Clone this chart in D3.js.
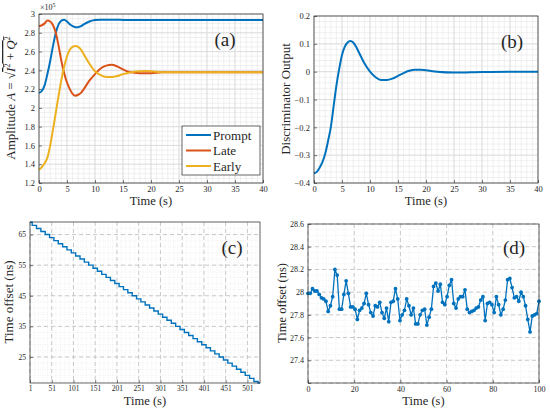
<!DOCTYPE html>
<html>
<head>
<meta charset="utf-8">
<script src="https://cdn.jsdelivr.net/npm/d3@7"></script>
<style>
  body { margin: 0; background: #fff; }
  svg { display: block; }
  text { font-family: "Liberation Serif", "DejaVu Serif", serif; fill: #262626; }
</style>
</head>
<body>
<div id="chart"></div>
<script>
// panel (a) amplitude curves
var tA = [0, 0.5, 1, 1.5, 2, 2.5, 3, 3.5, 4, 4.5, 5, 5.5, 6, 6.5, 7, 7.5, 8, 9, 10, 11, 12, 13, 14, 15, 16, 17, 18, 19, 20, 22, 25, 30, 35, 40];
var prompt = [2.16, 2.18, 2.24, 2.36, 2.5, 2.66, 2.8, 2.89, 2.93, 2.94, 2.92, 2.89, 2.87, 2.86, 2.86, 2.87, 2.89, 2.92, 2.935, 2.94, 2.94, 2.938, 2.938, 2.937, 2.937, 2.937, 2.937, 2.937, 2.937, 2.937, 2.937, 2.937, 2.937, 2.937];
var late = [2.87, 2.88, 2.9, 2.93, 2.92, 2.88, 2.8, 2.66, 2.5, 2.37, 2.27, 2.2, 2.15, 2.13, 2.14, 2.16, 2.2, 2.29, 2.36, 2.42, 2.45, 2.46, 2.44, 2.41, 2.385, 2.375, 2.37, 2.37, 2.37, 2.38, 2.38, 2.38, 2.38, 2.38];
var early = [1.34, 1.37, 1.41, 1.47, 1.6, 1.77, 1.95, 2.13, 2.3, 2.44, 2.55, 2.62, 2.65, 2.66, 2.65, 2.62, 2.57, 2.47, 2.39, 2.35, 2.33, 2.33, 2.34, 2.36, 2.375, 2.385, 2.39, 2.392, 2.39, 2.38, 2.38, 2.38, 2.38, 2.38];
var seriesNames = ["Prompt", "Late", "Early"];
var seriesColors = ["#0072BD", "#D95319", "#EDB120"];

// panel (b) discriminator output
var tB = [0, 0.5, 1, 1.5, 2, 2.5, 3, 3.5, 4, 4.5, 5, 5.5, 6, 6.5, 7, 7.5, 8, 9, 10, 11, 12, 13, 14, 15, 16, 17, 18, 19, 20, 22, 25, 30, 35, 40];
var disc = [-0.365, -0.36, -0.345, -0.325, -0.295, -0.25, -0.2, -0.125, -0.05, 0.01, 0.06, 0.09, 0.105, 0.11, 0.105, 0.09, 0.07, 0.03, 0.0, -0.02, -0.03, -0.03, -0.025, -0.015, -0.005, 0.003, 0.007, 0.007, 0.005, 0.0, -0.003, -0.001, 0.0, 0.0];

// panel (c) time offset staircase (every 10 s)
var tC = [1, 11, 21, 31, 41, 51, 61, 71, 81, 91, 101, 111, 121, 131, 141, 151, 161, 171, 181, 191, 201, 211, 221, 231, 241, 251, 261, 271, 281, 291, 301, 311, 321, 331, 341, 351, 361, 371, 381, 391, 401, 411, 421, 431, 441, 451, 461, 471, 481, 491, 501, 511, 521, 530];
var offC = [69, 68, 67, 66, 65, 64, 63, 62, 61, 60, 59, 58, 57, 56, 55, 54, 53, 52, 51, 50, 49, 48, 47, 46, 45, 44, 43, 42, 41, 40, 39, 38, 37, 36, 35, 34, 33, 32, 31, 30, 29, 28, 27, 26, 25, 24, 23, 22, 21, 20, 19, 18, 17, 16.5];
var ticksC = [1, 51, 101, 151, 201, 251, 301, 351, 401, 451, 501];

// panel (d) time offset samples
var offD = [27.99, 27.99, 28.03, 28.01, 28.01, 27.98, 27.95, 27.94, 27.92, 27.83, 27.88, 27.96, 28.2, 28.15, 27.85, 27.85, 27.98, 28.1, 27.99, 27.87,
            27.87, 27.85, 27.76, 27.84, 27.86, 27.9, 27.99, 27.89, 27.82, 27.79, 27.88, 27.87, 27.91, 27.82, 27.77, 27.86, 27.74, 27.91, 27.92, 28.03,
            27.94, 27.75, 27.8, 27.84, 27.94, 27.88, 27.8, 27.86, 27.72, 27.72, 27.8, 27.84, 27.85, 27.71, 27.78, 27.85, 28.05, 28.08, 28.01, 28.07,
            27.91, 27.89, 27.96, 28.06, 28.11, 27.9, 27.86, 27.94, 27.96, 27.96, 28.02, 27.85, 27.82, 27.83, 27.84, 27.86, 27.87, 27.93, 27.96, 27.75,
            27.9, 27.91, 27.89, 27.82, 27.96, 27.89, 27.8, 27.85, 27.93, 28.11, 28.12, 28.04, 27.95, 27.96, 27.92, 28.0, 27.96, 27.88, 27.76, 27.65, 27.79, 27.8, 27.81, 27.92];

var W = 550, H = 417;
var svg = d3.select("#chart").append("svg").attr("width", W).attr("height", H);
svg.append("rect").attr("width", W).attr("height", H).attr("fill", "#fff");

// builds one panel frame with grid, ticks, labels
function panel(o) {
    var x = d3.scaleLinear().domain(o.xd).range([o.l, o.r]);
    var y = d3.scaleLinear().domain(o.yd).range([o.b, o.t]);
    var g = svg.append("g");
    // minor grid
    o.xMinor.forEach(function(v) {
        g.append("line").attr("x1", x(v)).attr("x2", x(v)).attr("y1", o.t).attr("y2", o.b)
         .attr("stroke", "#e6e6e6").attr("stroke-width", 0.6).attr("stroke-dasharray", o.dash ? "1,1.5" : null);
    });
    o.yMinor.forEach(function(v) {
        g.append("line").attr("x1", o.l).attr("x2", o.r).attr("y1", y(v)).attr("y2", y(v))
         .attr("stroke", "#e6e6e6").attr("stroke-width", 0.6).attr("stroke-dasharray", o.dash ? "1,1.5" : null);
    });
    // major grid
    o.xt.forEach(function(v) {
        g.append("line").attr("x1", x(v)).attr("x2", x(v)).attr("y1", o.t).attr("y2", o.b)
         .attr("stroke", o.dash ? "#bdbdbd" : "#d9d9d9").attr("stroke-width", 0.8).attr("stroke-dasharray", o.dash ? "4,3" : null);
    });
    o.yt.forEach(function(v) {
        g.append("line").attr("x1", o.l).attr("x2", o.r).attr("y1", y(v)).attr("y2", y(v))
         .attr("stroke", o.dash ? "#bdbdbd" : "#d9d9d9").attr("stroke-width", 0.8).attr("stroke-dasharray", o.dash ? "4,3" : null);
    });
    var ax = g.append("g").attr("transform", "translate(0," + o.b + ")")
        .call(d3.axisBottom(x).tickValues(o.xt).tickSize(-3).tickPadding(3).tickFormat(o.xf || d3.format("")));
    var ay = g.append("g").attr("transform", "translate(" + o.l + ",0)")
        .call(d3.axisLeft(y).tickValues(o.yt).tickSize(-3).tickPadding(4).tickFormat(o.yf || d3.format("")));
    [ax, ay].forEach(function(a) {
        a.select(".domain").remove();
        a.selectAll("line").attr("stroke", "#262626").attr("stroke-width", 0.6);
        a.selectAll("text").attr("font-size", o.tickFont || 8.5).attr("font-family", "Liberation Serif").attr("fill", "#333");
    });
    return { g: g, x: x, y: y, o: o };
}

function frame(p) {
    var o = p.o;
    p.g.append("rect").attr("x", o.l).attr("y", o.t).attr("width", o.r - o.l).attr("height", o.b - o.t)
        .attr("fill", "none").attr("stroke", "#262626").attr("stroke-width", 0.7);
    p.g.append("text").attr("x", (o.l + o.r) / 2).attr("y", o.b + 22).attr("text-anchor", "middle")
        .attr("font-size", 12.5).text("Time (s)");
    p.g.append("text").attr("x", o.pl[0]).attr("y", o.pl[1]).attr("text-anchor", "middle")
        .attr("font-size", 19).attr("fill", "#111").text(o.label);
}

function range(a, b, s) { return d3.range(a, b + s / 2, s); }
var oneDec = function(d) { return d3.format("~g")(+d.toFixed(1)); };

// (a)
var pa = panel({ l: 39, r: 263, t: 14, b: 183, xd: [0, 40], yd: [1.2, 3.0],
    xt: range(0, 40, 5), yt: range(1.2, 3.0, 0.2), xMinor: range(0, 40, 1), yMinor: range(1.2, 3.0, 0.05),
    yf: oneDec, label: "(a)", pl: [225, 46] });
var lineA = d3.line().x(function(d) { return pa.x(d[0]); }).y(function(d) { return pa.y(d[1]); }).curve(d3.curveMonotoneX);
[prompt, late, early].forEach(function(s, i) {
    pa.g.append("path").datum(tA.map(function(t, j) { return [t, s[j]]; }))
        .attr("d", lineA).attr("fill", "none").attr("stroke", seriesColors[i]).attr("stroke-width", 2);
});
frame(pa);
pa.g.append("text").attr("x", 40).attr("y", 10).attr("font-size", 8).attr("fill", "#333")
    .text("×10").append("tspan").attr("dy", -3).attr("font-size", 6).text("5");
var yl = pa.g.append("text").attr("transform", "translate(15,98) rotate(-90)").attr("text-anchor", "middle").attr("font-size", 13);
yl.append("tspan").text("Amplitude ");
yl.append("tspan").attr("font-style", "italic").text("A");
yl.append("tspan").text(" = √");
var rad = yl.append("tspan").style("text-decoration", "overline");
rad.append("tspan").attr("font-style", "italic").text("I");
rad.append("tspan").attr("font-size", 8).attr("dy", -5).text("2");
rad.append("tspan").attr("dy", 5).text(" + ");
rad.append("tspan").attr("font-style", "italic").text("Q");
rad.append("tspan").attr("font-size", 8).attr("dy", -5).text("2");
// legend
var lg = pa.g.append("g");
lg.append("rect").attr("x", 182).attr("y", 126).attr("width", 78).attr("height", 49)
    .attr("fill", "#fff").attr("stroke", "#262626").attr("stroke-width", 0.7);
seriesNames.forEach(function(n, i) {
    var yy = 135 + i * 15.5;
    lg.append("line").attr("x1", 186).attr("x2", 211).attr("y1", yy).attr("y2", yy)
        .attr("stroke", seriesColors[i]).attr("stroke-width", 2);
    lg.append("text").attr("x", 213).attr("y", yy + 4.5).attr("font-size", 13).text(n);
});

// (b)
var pb = panel({ l: 314, r: 538, t: 16, b: 183, xd: [0, 40], yd: [-0.4, 0.2],
    xt: range(0, 40, 5), yt: range(-0.4, 0.2, 0.1), xMinor: range(0, 40, 1), yMinor: range(-0.4, 0.2, 0.02),
    yf: oneDec, label: "(b)", pl: [512, 48] });
pb.g.append("path").datum(tB.map(function(t, j) { return [t, disc[j]]; }))
    .attr("d", d3.line().x(function(d) { return pb.x(d[0]); }).y(function(d) { return pb.y(d[1]); }).curve(d3.curveMonotoneX))
    .attr("fill", "none").attr("stroke", "#0072BD").attr("stroke-width", 2);
frame(pb);
pb.g.append("text").attr("transform", "translate(290,99) rotate(-90)").attr("text-anchor", "middle")
    .attr("font-size", 13).text("Discriminator Output");

// (c)
var pc = panel({ l: 30, r: 260, t: 222, b: 383, xd: [1, 530], yd: [16.5, 69.1], dash: true, tickFont: 7.5,
    xt: ticksC, yt: [25, 35, 45, 55, 65], xMinor: range(1, 530, 10), yMinor: range(17, 69, 2),
    label: "(c)", pl: [232, 254] });
pc.g.append("path").datum(tC.map(function(t, j) { return [t, offC[j]]; }))
    .attr("d", d3.line().x(function(d) { return pc.x(d[0]); }).y(function(d) { return pc.y(d[1]); }).curve(d3.curveStep))
    .attr("fill", "none").attr("stroke", "#0072BD").attr("stroke-width", 1.4);
frame(pc);
pc.g.append("text").attr("transform", "translate(13,302) rotate(-90)").attr("text-anchor", "middle")
    .attr("font-size", 13).text("Time offset (ns)");

// (d)
var pd = panel({ l: 308, r: 539, t: 224, b: 383, xd: [0, 100], yd: [27.2, 28.6], dash: true, tickFont: 8,
    xt: range(0, 100, 20), yt: range(27.2, 28.6, 0.2), xMinor: range(0, 100, 4), yMinor: range(27.2, 28.6, 0.05),
    yf: oneDec, label: "(d)", pl: [514, 254] });
pd.g.selectAll(".tick text").filter(function(d) { return Math.abs(d - 27.2) < 1e-6; }).remove();
var tD = offD.map(function(v, i) { return i * 100 / (offD.length - 1); });
var ptsD = tD.map(function(t, j) { return [t, offD[j]]; });
pd.g.append("path").datum(ptsD)
    .attr("d", d3.line().x(function(d) { return pd.x(d[0]); }).y(function(d) { return pd.y(d[1]); }))
    .attr("fill", "none").attr("stroke", "#0072BD").attr("stroke-width", 1.3);
pd.g.selectAll("circle.pt").data(ptsD).enter().append("circle")
    .attr("cx", function(d) { return pd.x(d[0]); }).attr("cy", function(d) { return pd.y(d[1]); })
    .attr("r", 1.9).attr("fill", "#0072BD");
frame(pd);
pd.g.append("text").attr("transform", "translate(286,303) rotate(-90)").attr("text-anchor", "middle")
    .attr("font-size", 12.5).text("Time offset (ns)");
</script>
</body>
</html>
